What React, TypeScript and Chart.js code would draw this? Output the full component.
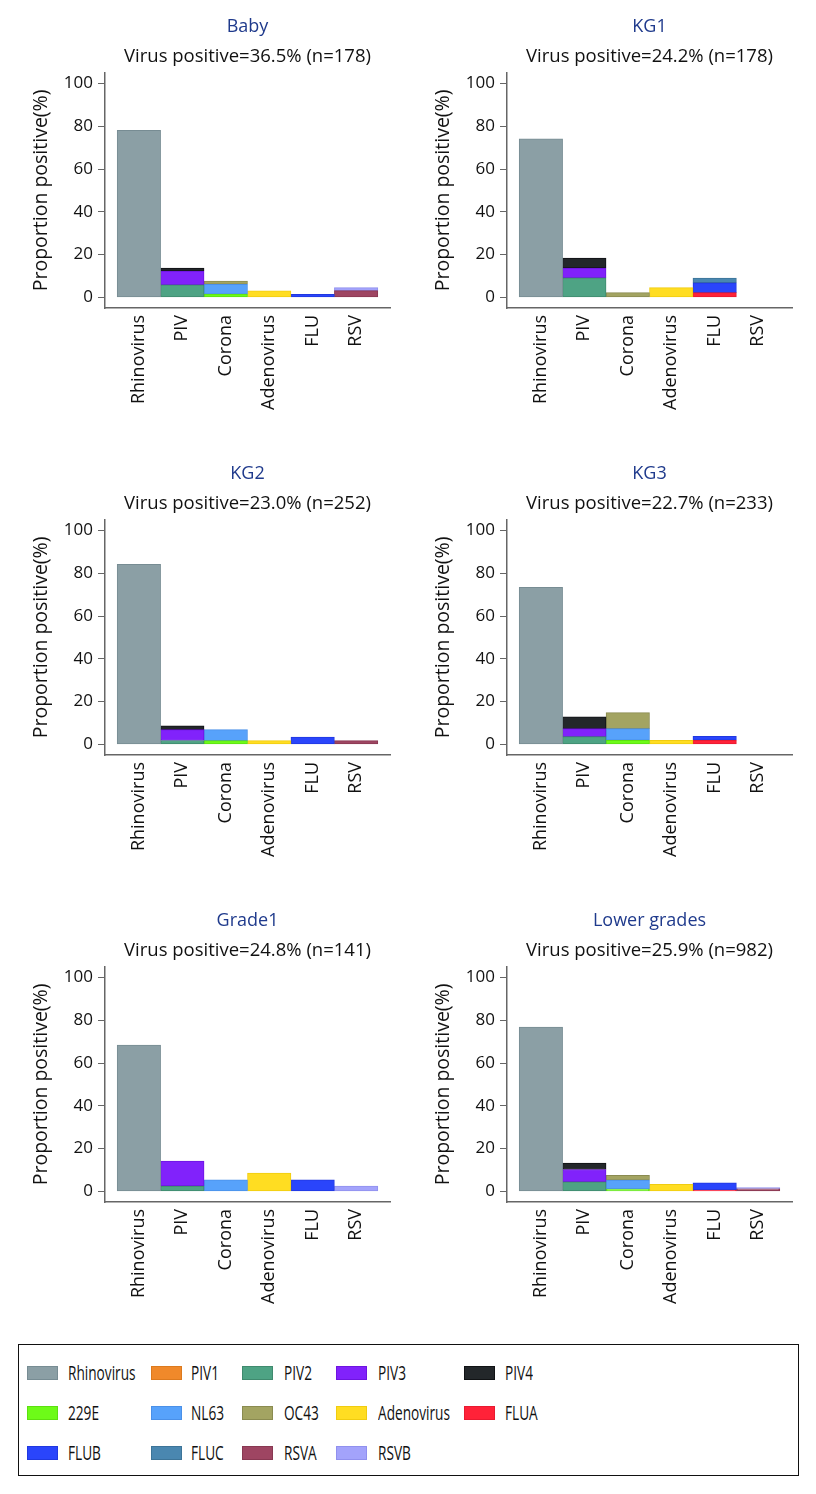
import React, { useEffect, useRef } from 'react';
import { Chart, registerables } from 'chart.js';

Chart.register(...registerables);

// ---------- data ----------
const categories = ['Rhinovirus', 'PIV', 'Corona', 'Adenovirus', 'FLU', 'RSV'];
const subtypes = ['Rhinovirus', 'PIV1', 'PIV2', 'PIV3', 'PIV4', '229E', 'NL63', 'OC43', 'Adenovirus', 'FLUA', 'FLUB', 'FLUC', 'RSVA', 'RSVB'];
const subtypeCategory = [0, 1, 1, 1, 1, 2, 2, 2, 3, 4, 4, 4, 5, 5];
const fillColors = ['#8b9fa5', '#f0892a', '#4ea384', '#8122fb', '#23272a', '#6dfb18', '#57a2fb', '#a3a462', '#ffdd22', '#ff2238', '#2a45fb', '#4a87b0', '#9e4562', '#a3a3fb'];
const borderColors = ['#778c93', '#dc7a1e', '#3f8a6e', '#6e14e0', '#101214', '#5ce010', '#4a90e8', '#8a8b50', '#f0cc10', '#e81a30', '#2038e0', '#3d7498', '#883852', '#9090ee'];

const panelTitles = ['Baby', 'KG1', 'KG2', 'KG3', 'Grade1', 'Lower grades'];
const positiveRates = ['36.5', '24.2', '23.0', '22.7', '24.8', '25.9'];
const sampleSizes = [178, 178, 252, 233, 141, 982];
const yTickValues = [0, 20, 40, 60, 80, 100];
const yAxisTitle = 'Proportion positive(%)';

// values per subtype (same order as subtypes), percent of positives
const babyValues = [78.1, 0, 5.8, 6.5, 1.4, 1.5, 4.6, 1.5, 3.0, 0, 1.4, 0, 3.1, 1.4];
const kg1Values = [74.1, 0, 9.1, 4.6, 4.6, 0, 0, 2.2, 4.5, 2.2, 4.6, 2.2, 0, 0];
const kg2Values = [84.2, 0, 1.8, 5.1, 1.7, 1.7, 5.2, 0, 1.7, 0, 3.4, 0, 1.7, 0];
const kg3Values = [73.4, 0, 3.6, 3.7, 5.6, 1.9, 5.4, 7.5, 1.9, 1.9, 1.8, 0, 0, 0];
const grade1Values = [68.4, 0, 2.5, 11.6, 0, 0, 5.4, 0, 8.5, 0, 5.4, 0, 0, 2.5];
const lowerGradesValues = [76.8, 0, 4.4, 5.8, 3.0, 1.1, 4.1, 2.3, 3.3, 0.6, 3.4, 0, 1.2, 0.5];
const panelValues = [babyValues, kg1Values, kg2Values, kg3Values, grade1Values, lowerGradesValues];

// ---------- layout ----------
const CANVAS_W = 400;
const CANVAS_H = 440;
const FONT = "'Open Sans', 'Noto Sans', sans-serif";

Chart.defaults.font.family = FONT;
Chart.defaults.color = '#111';

function Panel({ index, left, top }: { index: number; left: number; top: number }) {
  const ref = useRef<HTMLCanvasElement | null>(null);
  useEffect(() => {
    const values = panelValues[index];
    const datasets = subtypes.map((name, i) => ({
      label: name,
      data: values[i] > 0 ? [{ x: subtypeCategory[i], y: values[i] }] : [],
      backgroundColor: fillColors[i],
      borderColor: borderColors[i],
      borderWidth: 1,
      borderSkipped: false as const,
      categoryPercentage: 1,
      barPercentage: 1,
    }));
    const axisColor = '#666';
    const chart = new Chart(ref.current as HTMLCanvasElement, {
      type: 'bar',
      data: { datasets },
      options: {
        responsive: false,
        maintainAspectRatio: false,
        animation: false,
        layout: { padding: { left: 0, right: 18, top: 0, bottom: 0 } },
        plugins: {
          legend: { display: false },
          tooltip: { enabled: false },
          title: {
            display: true,
            fullSize: false,
            text: panelTitles[index],
            color: '#1f3a8c',
            font: { size: 18, weight: 'normal' },
            padding: { top: 8.2, bottom: 8.3 },
          },
          subtitle: {
            display: true,
            fullSize: false,
            text: `Virus positive=${positiveRates[index]}% (n=${sampleSizes[index]})`,
            color: '#111',
            font: { size: 18.5, weight: 'normal' },
            padding: { top: 0, bottom: 4.5 },
          },
        },
        scales: {
          x: {
            type: 'linear',
            min: -0.78,
            max: 5.78,
            offset: false,
            stacked: true,
            grid: { display: false, drawTicks: false },
            border: { display: true, color: axisColor, width: 1.5 },
            afterBuildTicks: (s: any) => {
              s.ticks = categories.map((_, i) => ({ value: i }));
            },
            ticks: {
              autoSkip: false,
              minRotation: 90,
              maxRotation: 90,
              padding: 7,
              color: '#111',
              font: { size: 18 },
              callback: (v: any) => categories[Number(v)] ?? '',
            },
            afterFit: (s: any) => {
              s.height = CANVAS_H - 300;
            },
          },
          y: {
            type: 'linear',
            min: -5,
            max: 105,
            stacked: true,
            grid: { display: true, drawOnChartArea: false, drawTicks: true, tickLength: 7, color: axisColor },
            border: { display: true, color: axisColor, width: 1.5 },
            afterBuildTicks: (s: any) => {
              s.ticks = yTickValues.map((v) => ({ value: v }));
            },
            ticks: { padding: 5, color: '#111', font: { size: 17 } },
            title: {
              display: true,
              text: yAxisTitle,
              color: '#111',
              font: { size: 19.5 },
              padding: { top: 22, bottom: 0 },
            },
            afterFit: (s: any) => {
              s.width = 97;
            },
          },
        },
      } as any,
    });
    return () => chart.destroy();
  }, [index]);
  return (
    <canvas
      ref={ref}
      width={CANVAS_W}
      height={CANVAS_H}
      style={{ position: 'absolute', left, top, width: CANVAS_W, height: CANVAS_H, display: 'block' }}
    />
  );
}

const legendSwatchLefts = [8, 132, 223, 317, 445];
const legendTextLefts = [49, 172, 265, 359, 486];
const legendRowCenters = [28, 68, 108];

function Legend() {
  return (
    <div
      style={{
        position: 'absolute',
        left: 10,
        top: 1336,
        width: 781,
        height: 132,
        border: '1.5px solid #111',
        boxSizing: 'border-box',
        fontFamily: FONT,
      }}
    >
      {subtypes.map((name, i) => {
        const col = i % 5;
        const row = Math.floor(i / 5);
        const cy = legendRowCenters[row];
        return (
          <React.Fragment key={name}>
            <div
              style={{
                position: 'absolute',
                left: legendSwatchLefts[col],
                top: cy - 7,
                width: 31,
                height: 14,
                background: fillColors[i],
                border: `1px solid ${borderColors[i]}`,
                boxSizing: 'border-box',
              }}
            />
            <div
              style={{
                position: 'absolute',
                left: legendTextLefts[col],
                top: cy - 14,
                height: 28,
                lineHeight: '28px',
                fontSize: 19.5,
                color: '#111',
                whiteSpace: 'nowrap',
                transform: 'scaleX(0.7)',
                transformOrigin: 'left center',
              }}
            >
              {name}
            </div>
          </React.Fragment>
        );
      })}
    </div>
  );
}

export default function App() {
  const positions = [
    { left: 0, top: 0 },
    { left: 402, top: 0 },
    { left: 0, top: 447 },
    { left: 402, top: 447 },
    { left: 0, top: 894 },
    { left: 402, top: 894 },
  ];
  return (
    <div style={{ position: 'relative', width: 808, height: 1478 }}>
      {positions.map((p, i) => (
        <Panel key={i} index={i} left={p.left} top={p.top} />
      ))}
      <Legend />
    </div>
  );
}
